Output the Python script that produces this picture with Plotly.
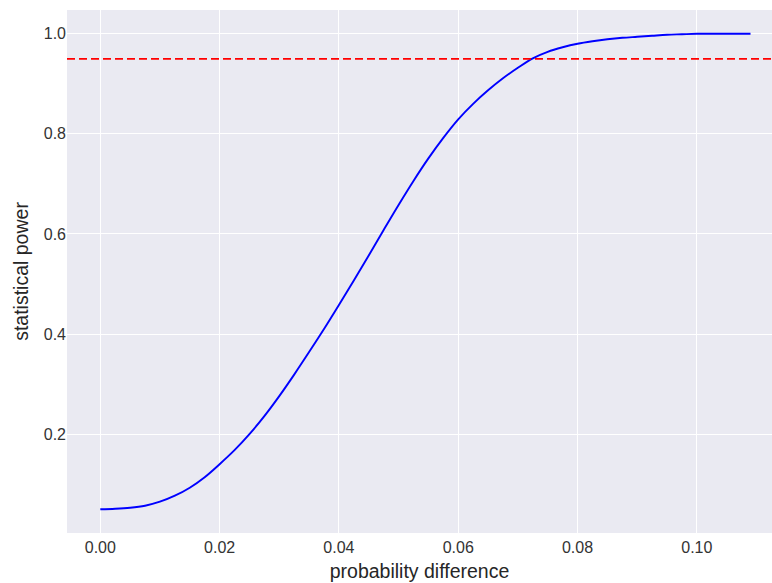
import plotly.graph_objects as go

# probability difference (x) and statistical power (y)
prob_diff = [0.0000, 0.0025, 0.0050, 0.0075, 0.0100, 0.0125, 0.0150, 0.0175,
             0.0200, 0.0225, 0.0250, 0.0275, 0.0300, 0.0325, 0.0350, 0.0375,
             0.0400, 0.0425, 0.0450, 0.0475, 0.0500, 0.0525, 0.0550, 0.0575,
             0.0600, 0.0625, 0.0650, 0.0675, 0.0700, 0.0725, 0.0750, 0.0775,
             0.0800, 0.0825, 0.0850, 0.0875, 0.0900, 0.0925, 0.0950, 0.0975,
             0.1000, 0.1050, 0.1090]
power = [0.050, 0.051, 0.053, 0.057, 0.065, 0.077, 0.093, 0.114,
         0.140, 0.168, 0.200, 0.236, 0.276, 0.319, 0.364, 0.410,
         0.458, 0.507, 0.557, 0.608, 0.658, 0.706, 0.751, 0.792,
         0.829, 0.860, 0.887, 0.911, 0.932, 0.951, 0.964, 0.973,
         0.980, 0.985, 0.989, 0.992, 0.994, 0.996, 0.998, 0.999,
         1.000, 1.000, 1.000]
target_power = 0.95

x_ticks = [0.00, 0.02, 0.04, 0.06, 0.08, 0.10]
x_tick_labels = ["0.00", "0.02", "0.04", "0.06", "0.08", "0.10"]
y_ticks = [0.2, 0.4, 0.6, 0.8, 1.0]
y_tick_labels = ["0.2", "0.4", "0.6", "0.8", "1.0"]

fig = go.Figure()
fig.add_trace(go.Scatter(x=prob_diff, y=power, mode="lines",
                         line=dict(color="#0000FF", width=1.9, shape="spline", smoothing=1.0),
                         showlegend=False, hoverinfo="skip"))
fig.add_shape(type="line", xref="paper", yref="y", x0=0, x1=1,
              y0=target_power, y1=target_power,
              line=dict(color="#FF0000", width=1.8, dash="8px,4px"))

font_family = "Liberation Sans, Arial, sans-serif"
fig.update_layout(
    width=772, height=583,
    margin=dict(l=67, r=0, t=10, b=50, autoexpand=False),
    paper_bgcolor="white", plot_bgcolor="#EAEAF2",
    font=dict(family=font_family, color="#262626"),
    xaxis=dict(range=[-0.00558, 0.1126], tickvals=x_ticks, ticktext=x_tick_labels,
               showgrid=True, gridcolor="white", gridwidth=1.2, zeroline=False,
               showline=False, ticks="", ticklabelstandoff=3,
               tickfont=dict(size=16, color="#333333"),
               title=dict(text="probability difference", font=dict(size=19.5, color="#262626"),
                          standoff=9)),
    yaxis=dict(range=[0.0025, 1.0475], tickvals=y_ticks, ticktext=y_tick_labels,
               showgrid=True, gridcolor="white", gridwidth=1.2, zeroline=False,
               showline=False, ticks="", tickfont=dict(size=16, color="#333333"),
               title=dict(text="statistical power", font=dict(size=19.5, color="#262626"),
                          standoff=9)),
)

fig.write_html("out.html")
